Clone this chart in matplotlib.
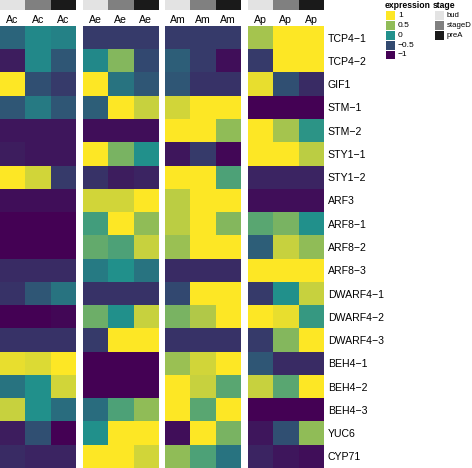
import numpy as np
import matplotlib
matplotlib.use("Agg")
import matplotlib.pyplot as plt
from matplotlib.colors import LinearSegmentedColormap, ListedColormap
from matplotlib.patches import Rectangle

plt.rcParams['font.family'] = ['Liberation Sans', 'DejaVu Sans']

genes = ["TCP4-1", "TCP4-2", "GIF1", "STM-1", "STM-2", "STY1-1", "STY1-2",
         "ARF3", "ARF8-1", "ARF8-2", "ARF8-3", "DWARF4-1", "DWARF4-2",
         "DWARF4-3", "BEH4-1", "BEH4-2", "BEH4-3", "YUC6", "CYP71"]
species = ["Ac", "Ae", "Am", "Ap"]
stages = ["bud", "stageD", "preA"]
stage_colors = ["#e3e3e3", "#808080", "#1a1a1a"]

# scaled expression per gene, columns bud / stageD / preA
expr_ac = [[-0.3, -0.05, -0.1], [-0.8, -0.05, -0.4], [1.0, -0.45, -0.6],
           [-0.4, -0.15, -0.4], [-0.85, -0.85, -0.85], [-0.8, -0.85, -0.85],
           [1.0, 0.8, -0.6], [-0.9, -0.9, -0.9], [-1.0, -1.0, -1.0],
           [-1.0, -1.0, -1.0], [-0.7, -0.7, -0.7], [-0.65, -0.4, -0.2],
           [-1.0, -1.0, -0.95], [-0.65, -0.65, -0.65], [0.9, 0.85, 1.0],
           [-0.2, 0.0, 0.8], [0.75, 0.0, -0.25], [-0.8, -0.45, -1.0],
           [-0.7, -0.75, -0.75]]
expr_ae = [[-0.6, -0.6, -0.6], [-0.05, 0.45, -0.5], [1.0, -0.2, -0.4],
           [-0.35, 1.0, 0.75], [-0.9, -0.9, -0.9], [1.0, 0.4, 0.0],
           [-0.65, -0.8, -0.75], [0.8, 0.8, 1.0], [0.15, 1.0, 0.5],
           [0.3, 0.2, 0.75], [-0.15, 0.0, -0.2], [-0.65, -0.65, -0.65],
           [0.35, 0.0, 0.75], [-0.6, 1.0, 1.0], [-1.0, -1.0, -1.0],
           [-1.0, -1.0, -1.0], [-0.25, 0.2, 0.5], [0.0, 1.0, 1.0],
           [1.0, 1.0, 0.8]]
expr_am = [[-0.6, -0.6, -0.6], [-0.35, -0.6, -0.9], [-0.4, -0.65, -0.65],
           [0.8, 1.0, 1.0], [1.0, 1.0, 0.5], [-0.85, -0.6, -0.95],
           [1.0, 1.0, 0.2], [0.7, 1.0, 1.0], [0.7, 1.0, 0.45],
           [0.55, 1.0, 1.0], [-0.7, -0.7, -0.7], [-0.5, 1.0, 1.0],
           [0.4, 0.65, 1.0], [-0.65, -0.65, -0.65], [0.55, 0.8, 1.0],
           [1.0, 0.75, 0.25], [1.0, 0.25, 1.0], [-0.9, 1.0, 0.4],
           [0.5, 0.2, -0.2]]
expr_ap = [[0.6, 1.0, 1.0], [-0.6, 1.0, 1.0], [0.9, -0.45, -0.7],
           [-1.0, -1.0, -1.0], [1.0, 0.6, 0.05], [1.0, 1.0, 0.7],
           [-0.75, -0.75, -0.75], [-0.9, -0.9, -0.9], [0.25, 0.4, 0.0],
           [-0.35, 0.75, 0.5], [1.0, 1.0, 1.0], [-0.6, 0.0, 0.75],
           [1.0, 0.9, 0.1], [-0.6, 0.45, 1.0], [-0.4, -0.7, -0.7],
           [0.75, 0.25, 1.0], [-1.0, -1.0, -1.0], [-0.85, -0.45, 0.5],
           [-0.75, -0.85, -0.9]]
legend_breaks = [1, 0.5, 0, -0.5, -1]

cmap = LinearSegmentedColormap.from_list("expr", ["#440154", "#21908C", "#FDE725"])
stage_cmap = ListedColormap(stage_colors)

W, H = 472, 468
fig = plt.figure(figsize=(W / 100, H / 100), dpi=100)

group_w = 75.5
gap = 7.2
top_hm = 26
for i, (sp, data) in enumerate(zip(species, [expr_ac, expr_ae, expr_am, expr_ap])):
    x0 = i * (group_w + gap)
    ax = fig.add_axes([x0 / W, 0, group_w / W, (H - top_hm) / H])
    ax.imshow(np.array(data), cmap=cmap, vmin=-1, vmax=1, aspect='auto',
              interpolation='nearest')
    ax.set_xticks([])
    ax.set_yticks([])
    for s in ax.spines.values():
        s.set_visible(False)
    if i == 3:
        ax.set_yticks(range(len(genes)))
        ax.set_yticklabels([g.replace("-", "\u2212") for g in genes], fontsize=7.6)
        ax.yaxis.tick_right()
        ax.tick_params(axis='y', length=0, pad=3)
    # annotation bar
    ann = fig.add_axes([x0 / W, 1 - 10 / H, group_w / W, 10 / H])
    ann.imshow(np.arange(3)[None, :], cmap=stage_cmap, aspect='auto', vmin=0, vmax=2)
    ann.axis('off')
    for j in range(3):
        fig.text((x0 + group_w * (j + 0.5) / 3) / W, 1 - 20 / H, sp,
                 ha='center', va='center', fontsize=7.6)


def legend_key(x, y, w, h, color):
    fig.patches.append(Rectangle((x / W, 1 - (y + h) / H), w / W, h / H,
                                 transform=fig.transFigure, color=color,
                                 linewidth=0))


# expression legend
lx = 385
fig.text(lx / W, 1 - 6 / H, "expression", fontsize=6.2, fontweight='bold',
         ha='left', va='center')
for k, b in enumerate(legend_breaks):
    y = 11.5 + k * 9.8
    legend_key(lx + 1, y, 9, 8.6, cmap((b + 1) / 2))
    lab = str(b).replace("-", "\u2212")
    fig.text((lx + 13) / W, 1 - (y + 4.3) / H, lab, fontsize=6.0,
             ha='left', va='center')

# stage legend
sx = 433
fig.text(sx / W, 1 - 6 / H, "stage", fontsize=6.2, fontweight='bold',
         ha='left', va='center')
for k, (st, c) in enumerate(zip(stages, stage_colors)):
    y = 11.5 + k * 9.8
    legend_key(sx + 1.5, y, 9.5, 8.6, c)
    fig.text((sx + 13.5) / W, 1 - (y + 4.3) / H, st, fontsize=5.6,
             ha='left', va='center')

fig.savefig("out.png", dpi=100)
